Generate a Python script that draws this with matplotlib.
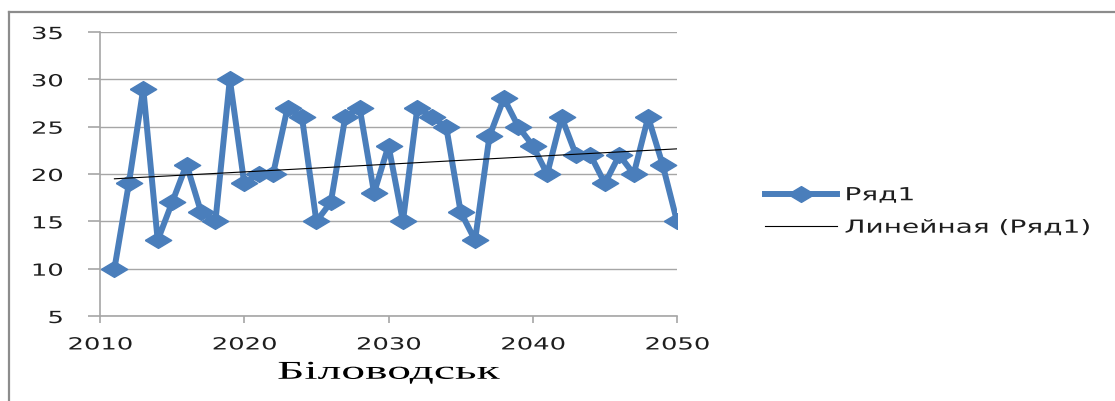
import numpy as np
import matplotlib
matplotlib.use("Agg")
import matplotlib.pyplot as plt
from matplotlib.lines import Line2D
from matplotlib.patheffects import AbstractPathEffect
from matplotlib.transforms import Affine2D

years = list(range(2011, 2051))
values = [10, 19, 29, 13, 17, 21, 16, 15, 30, 19,
          20, 20, 27, 26, 15, 17, 26, 27, 18, 23,
          15, 27, 26, 25, 16, 13, 24, 28, 25, 23,
          20, 26, 22, 22, 19, 22, 20, 26, 21, 15]
series_name = "Ряд1"
trend_name = "Линейная (Ряд1)"
x_title = "Біловодськ"
y_ticks = [5, 10, 15, 20, 25, 30, 35]
x_ticks = [2010, 2020, 2030, 2040, 2050]

blue = "#4A7EBB"
grid_gray = "#A6A6A6"
text_color = "#1E1E1E"


class HStretch(AbstractPathEffect):
    """Draw text glyphs widened horizontally about a chosen edge."""

    def __init__(self, factor, anchor="center"):
        super().__init__()
        self.factor = factor
        self.anchor = anchor

    def draw_path(self, renderer, gc, tpath, affine, rgbFace=None):
        verts = tpath.vertices
        if len(verts) == 0:
            renderer.draw_path(gc, tpath, affine, rgbFace)
            return
        pts = affine.transform(verts)
        x0, x1 = pts[:, 0].min(), pts[:, 0].max()
        ref = {"left": x0, "right": x1, "center": 0.5 * (x0 + x1)}[self.anchor]
        stretched = affine + Affine2D().translate(-ref, 0).scale(self.factor, 1).translate(ref, 0)
        renderer.draw_path(gc, tpath, stretched, rgbFace)


fig = plt.figure(figsize=(11.15, 4.01), dpi=100)
ax = fig.add_axes([100 / 1115, 1 - 316 / 401, 577 / 1115, 284 / 401])

# flattened diamond marker
diamond = [(-1, 0), (0, 0.6), (1, 0), (0, -0.6), (-1, 0)]

ax.plot(years, values, color=blue, lw=4.3, marker=diamond, ms=19,
        mfc=blue, mec=blue, label=series_name, zorder=3)

# linear trend line
coef = np.polyfit(years, values, 1)
tx = np.array([years[0], years[-1]])
ax.plot(tx, np.polyval(coef, tx), color="black", lw=0.8,
        label=trend_name, zorder=4)

ax.set_xlim(2010, 2050)
ax.set_ylim(5, 35)
ax.set_xticks(x_ticks)
ax.set_yticks(y_ticks)
ax.yaxis.grid(True, color=grid_gray, lw=1)
ax.set_axisbelow(True)

for side in ("top", "right"):
    ax.spines[side].set_visible(False)
for side in ("left", "bottom"):
    ax.spines[side].set_color(grid_gray)
    ax.spines[side].set_linewidth(1.2)

ax.tick_params(axis="both", colors=grid_gray, labelcolor=text_color,
               labelsize=12, width=1.2)
ax.tick_params(axis="x", length=5, pad=9)
ax.tick_params(axis="y", length=8.6, pad=18)

for lbl in ax.get_xticklabels():
    lbl.set_path_effects([HStretch(1.55, "center")])
for lbl in ax.get_yticklabels():
    lbl.set_path_effects([HStretch(1.55, "right")])

xl = ax.set_xlabel(x_title, family="Liberation Serif", fontsize=18.5,
                   color="black", labelpad=6)
xl.set_path_effects([HStretch(1.85, "center")])

leg = ax.legend(loc="center left", bbox_to_anchor=(1.1525, 0.368), frameon=False,
                fontsize=13, handlelength=4.0, labelspacing=0.8,
                handletextpad=0.4, borderpad=0, borderaxespad=0)
for t in leg.get_texts():
    t.set_color(text_color)
    t.set_path_effects([HStretch(1.55, "left")])

# outer chart frame
fig.add_artist(Line2D([9 / 1115, 1], [1 - 12 / 401, 1 - 12 / 401],
                      transform=fig.transFigure, color="#8C8C8C", lw=1.6))
fig.add_artist(Line2D([9 / 1115, 9 / 1115], [0, 1 - 12 / 401],
                      transform=fig.transFigure, color="#8C8C8C", lw=1.6))

fig.savefig("out.png", dpi=100)
